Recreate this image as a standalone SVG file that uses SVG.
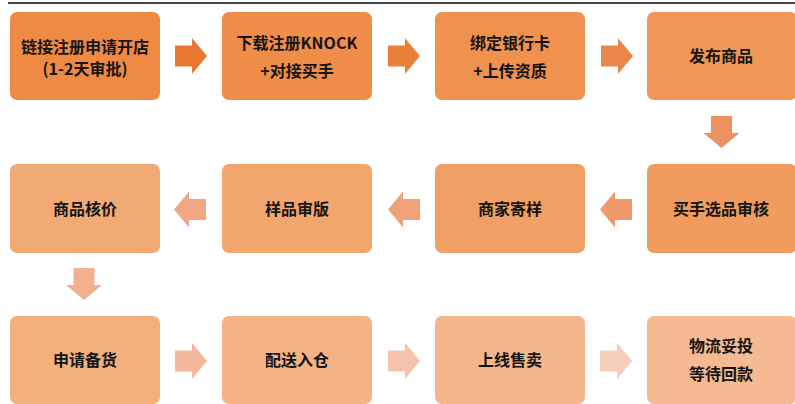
<svg xmlns="http://www.w3.org/2000/svg" width="795" height="404" viewBox="0 0 795 404">
<style>
text{font-family:"Noto Sans CJK SC","Noto Sans",sans-serif;font-weight:bold;font-size:16px;fill:#141414;text-anchor:middle}
</style>
<defs>
<path id="ar" d="M0,-10.5 H17 V-18 L32,0 L17,18 V10.5 H0 Z"/>
</defs>
<rect width="795" height="404" fill="#ffffff"/>
<line x1="8" y1="3" x2="795" y2="3" stroke="#474747" stroke-width="2"/>
<g id="n1"><rect x="10" y="12" width="150" height="88" rx="7" fill="#EF8A44"/><text x="85" y="52.5">链接注册申请开店</text><text x="85" y="75">(1-2天审批)</text></g>
<g id="n2"><rect x="222" y="12" width="150" height="88" rx="7" fill="#F08D49"/><text x="297" y="48.5">下载注册KNOCK</text><text x="297" y="77">+对接买手</text></g>
<g id="n3"><rect x="435" y="12" width="150" height="88" rx="7" fill="#F0914F"/><text x="510" y="48.5">绑定银行卡</text><text x="510" y="77">+上传资质</text></g>
<g id="n4"><rect x="647" y="12" width="150" height="88" rx="7" fill="#F09656"/><text x="721" y="62">发布商品</text></g>
<g id="n5"><rect x="647" y="164" width="150" height="89" rx="7" fill="#F19C5E"/><text x="721" y="214.5">买手选品审核</text></g>
<g id="n6"><rect x="435" y="164" width="150" height="89" rx="7" fill="#F1A065"/><text x="510" y="214.5">商家寄样</text></g>
<g id="n7"><rect x="222" y="164" width="150" height="89" rx="7" fill="#F2A56D"/><text x="297" y="214.5">样品审版</text></g>
<g id="n8"><rect x="10" y="164" width="150" height="89" rx="7" fill="#F2AA75"/><text x="85" y="214.5">商品核价</text></g>
<g id="n9"><rect x="10" y="316" width="150" height="88" rx="7" fill="#F3B07E"/><text x="85" y="366">申请备货</text></g>
<g id="n10"><rect x="222" y="316" width="150" height="88" rx="7" fill="#F3B385"/><text x="297" y="366">配送入仓</text></g>
<g id="n11"><rect x="435" y="316" width="150" height="88" rx="7" fill="#F4B68A"/><text x="510" y="366">上线售卖</text></g>
<g id="n12"><rect x="647" y="316" width="150" height="88" rx="7" fill="#F5BA91"/><text x="721" y="352">物流妥投</text><text x="721" y="380">等待回款</text></g>
<g id="connectors">
<use href="#ar" transform="translate(175,56)" fill="#E8782F"/>
<use href="#ar" transform="translate(388,56)" fill="#E9803A"/>
<use href="#ar" transform="translate(601,56)" fill="#EA8748"/>
<use href="#ar" transform="translate(721.5,116) rotate(90)" fill="#EC9160"/>
<use href="#ar" transform="translate(632,209.5) rotate(180)" fill="#EE9A6C"/>
<use href="#ar" transform="translate(420,209.5) rotate(180)" fill="#EFA279"/>
<use href="#ar" transform="translate(206,209.5) rotate(180)" fill="#F0A884"/>
<use href="#ar" transform="translate(84,268) rotate(90)" fill="#F2B091"/>
<use href="#ar" transform="translate(175,361)" fill="#F3B89E"/>
<use href="#ar" transform="translate(388,361)" fill="#F5C2AC"/>
<use href="#ar" transform="translate(600,361)" fill="#F7CDBC"/>
</g>
</svg>
